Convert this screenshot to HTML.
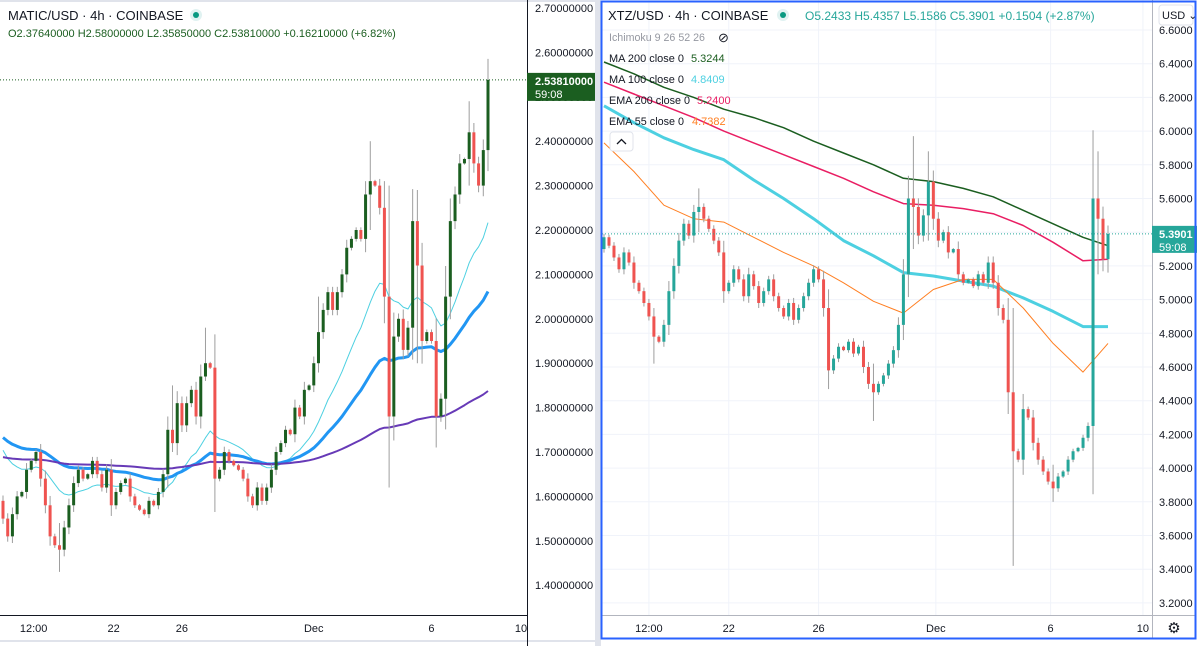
<!DOCTYPE html>
<html><head><meta charset="utf-8">
<style>
html,body{margin:0;padding:0;background:#fff;}
body{width:1197px;height:646px;overflow:hidden;position:relative;font-family:"Liberation Sans",sans-serif;}
svg{position:absolute;left:0;top:0;}
text{font-family:"Liberation Sans",sans-serif;}
</style></head>
<body>
<svg id="chart" width="1197" height="646" viewBox="0 0 1197 646" xmlns="http://www.w3.org/2000/svg">
  <rect x="0" y="0" width="1197" height="646" fill="#ffffff"/>
  <rect x="595" y="0" width="6" height="646" fill="#e0e3eb"/>
  <line x1="0" y1="1" x2="595" y2="1" stroke="#e0e3eb" stroke-width="2"/>
  <line x1="0" y1="641" x2="595" y2="641" stroke="#e0e3eb" stroke-width="2"/>
  <g id="left"></g>
  <g id="right"></g>
  <rect x="601.5" y="1.5" width="594" height="637" fill="none" stroke="#2962ff" stroke-width="2"/>
</svg>
<script>
// ---------- LEFT: MATIC/USD ----------
const maticCloses = [1.55,1.51,1.56,1.60,1.61,1.66,1.68,1.70,1.64,1.58,1.51,1.49,1.48,1.53,1.58,1.63,1.66,1.64,1.65,1.68,1.65,1.62,1.66,1.58,1.61,1.63,1.64,1.60,1.58,1.57,1.56,1.59,1.58,1.61,1.65,1.75,1.72,1.81,1.76,1.81,1.84,1.78,1.87,1.90,1.89,1.64,1.66,1.70,1.68,1.67,1.66,1.64,1.60,1.58,1.62,1.59,1.62,1.66,1.70,1.72,1.75,1.74,1.80,1.78,1.84,1.85,1.90,1.97,2.02,2.06,2.02,2.06,2.10,2.16,2.18,2.20,2.18,2.28,2.31,2.30,2.25,2.05,1.78,1.96,2.00,1.93,1.98,2.22,2.12,1.95,1.97,1.95,1.78,1.82,2.05,2.22,2.28,2.35,2.36,2.42,2.35,2.30,2.38,2.5381];
const maticFirstOpen = 1.59;
const maticSpikeIdx = [12,36,43,67,78,82,88,92,99,103];
const maticSpikeHi = [1.54,1.85,1.98,2.05,2.40,2.30,2.29,1.99,2.49,2.58];
const maticSpikeLo = [1.43,1.70,1.86,1.90,2.20,1.62,1.90,1.71,2.30,2.36];
const maticEmaSeeds = [1.72,1.74,1.69]; // ema20, ema50, slow ema start values
const maticEmaPeriods = [20,50,180];
const maticTicks = [2.7,2.6,2.5,2.4,2.3,2.2,2.1,2.0,1.9,1.8,1.7,1.6,1.5,1.4];
const maticTimeLabels = ["12:00","22","26","Dec","6","10"];
const maticTimeIdx = [6.5,23.5,38,66,91,110];

// ---------- RIGHT: XTZ/USD ----------
const xtzCloses = [5.37,5.32,5.25,5.18,5.28,5.22,5.10,5.05,4.98,4.90,4.78,4.75,4.85,5.05,5.20,5.35,5.45,5.38,5.52,5.55,5.48,5.42,5.35,5.28,5.05,5.10,5.18,5.12,5.02,5.15,5.08,4.98,5.05,5.12,5.02,4.95,4.90,4.98,4.88,4.95,5.02,5.10,5.18,5.12,4.95,4.58,4.65,4.72,4.70,4.75,4.68,4.72,4.60,4.50,4.45,4.50,4.55,4.62,4.70,4.85,5.15,5.60,5.55,5.38,5.50,5.70,5.48,5.35,5.40,5.28,5.30,5.15,5.10,5.12,5.08,5.15,5.10,5.22,5.10,4.95,4.88,4.45,4.10,4.05,4.35,4.30,4.15,4.05,3.98,3.92,3.88,3.95,3.98,4.05,4.10,4.12,4.18,4.25,5.60,5.48,5.24,5.3901];
const xtzFirstOpen = 5.30;
const xtzSpikeIdx = [10,19,54,62,65,82,90,98,99,101];
const xtzSpikeHi = [4.95,5.66,4.62,5.97,5.88,4.95,4.02,5.70,5.88,5.44];
const xtzSpikeLo = [4.62,5.40,4.28,5.30,5.35,3.42,3.80,5.30,5.15,5.16];
const xtzMaStep = 6;
const xtzMa200 = [6.41,6.34,6.26,6.20,6.13,6.08,6.02,5.94,5.87,5.80,5.72,5.70,5.66,5.61,5.53,5.45,5.37,5.32];
const xtzEma200 = [6.29,6.22,6.15,6.08,6.00,5.93,5.86,5.79,5.72,5.64,5.57,5.56,5.54,5.51,5.44,5.34,5.23,5.24];
const xtzMa100 = [6.15,6.05,5.96,5.89,5.83,5.71,5.60,5.48,5.35,5.26,5.16,5.14,5.11,5.08,5.01,4.93,4.84,4.84];
const xtzEma55 = [5.93,5.76,5.56,5.48,5.46,5.37,5.28,5.20,5.10,4.99,4.92,5.06,5.12,5.12,4.95,4.74,4.57,4.74];
const xtzTicks = [6.6,6.4,6.2,6.0,5.8,5.6,5.4,5.2,5.0,4.8,4.6,4.4,4.2,4.0,3.8,3.6,3.4,3.2];
const xtzTimeLabels = ["12:00","22","26","Dec","6","10"];
const xtzTimeIdx = [9,25,43,66.5,89.5,108];

const NS = "http://www.w3.org/2000/svg";
function mk(parent, tag, attrs, txt){
  const e = document.createElementNS(NS, tag);
  for (const k in attrs) e.setAttribute(k, attrs[k]);
  if (txt !== undefined) e.textContent = txt;
  parent.appendChild(e);
  return e;
}

function drawCandles(g, closes, firstOpen, spikeIdx, spikeHi, spikeLo, X, Y, up, dn, w){
  for (let i = 0; i < closes.length; i++){
    const o = i === 0 ? firstOpen : closes[i-1];
    const c = closes[i];
    let hi = Math.max(o,c), lo = Math.min(o,c);
    const sp = spikeIdx.indexOf(i);
    const rng = Math.abs(c-o);
    hi += rng*0.3; lo -= rng*0.3;
    if (sp >= 0){ hi = Math.max(hi, spikeHi[sp]); lo = Math.min(lo, spikeLo[sp]); }
    const col = c >= o ? up : dn;
    const wk = mk(g, 'line', {x1:X(i), x2:X(i), y1:Y(hi), y2:Y(lo), stroke:'#9e9e9e', 'stroke-width':1});
    
    
    const top = Y(Math.max(o,c)), bot = Y(Math.min(o,c));
    const b = mk(g, 'rect', {x:X(i)-w/2, y:top, width:w, height:Math.max(1, bot-top), fill:col});
    
    
  }
}
function pathFrom(pts){ return pts.map((p,i)=>(i?'L':'M')+p[0].toFixed(1)+','+p[1].toFixed(1)).join(' '); }

// ===== LEFT PANEL =====
(function(){
  const g = document.getElementById('left');
  const plotR = 527, y27 = 8, pxPer = 444;
  const Y = p => y27 + (2.7 - p) * pxPer;
  const n = maticCloses.length;
  const X = i => 3 + i * (485 / (n - 1));
  const colors = ['#4dd0e1','#2196f3','#673ab7'];
  const widths = [1,3,2];
  for (let k = 0; k < 3; k++){
    const a = 2/(maticEmaPeriods[k]+1);
    let v = maticEmaSeeds[k];
    const pts = [];
    for (let i = 0; i < n; i++){ v = v + a*(maticCloses[i]-v); pts.push([X(i), Y(v)]); }
    const l = mk(g,'path',{d:pathFrom(pts),fill:'none',stroke:colors[k],'stroke-width':widths[k],'stroke-linejoin':'round'});
    
    
  }
  drawCandles(g, maticCloses, maticFirstOpen, maticSpikeIdx, maticSpikeHi, maticSpikeLo, X, Y, '#1b5e20', '#ef5350', 3);
  const last = maticCloses[n-1];
  mk(g,'line',{x1:0,x2:plotR,y1:Y(last),y2:Y(last),stroke:'#1b5e20','stroke-width':1,'stroke-dasharray':'1,2'});
  mk(g,'line',{x1:plotR+0.5,x2:plotR+0.5,y1:0,y2:646,stroke:'#131722','stroke-width':1});
  mk(g,'line',{x1:0,x2:plotR,y1:615.5,y2:615.5,stroke:'#131722','stroke-width':1});
  maticTicks.forEach(t=>{
    const tx = mk(g,'text',{x:535,y:Y(t)+4,'font-size':11,fill:'#131722'}, t.toFixed(8));
    
    
  });
  const box = mk(g,'rect',{x:plotR,y:Y(last)-7,width:68,height:28,fill:'#1b5e20'});
  
  
  mk(g,'text',{x:535,y:Y(last)+5,'font-size':11,fill:'#fff','font-weight':'bold'}, last.toFixed(8));
  mk(g,'text',{x:535,y:Y(last)+18,'font-size':11,fill:'#fff'}, '59:08');
  maticTimeLabels.forEach((t,i)=>{
    const tx = mk(g,'text',{x:X(maticTimeIdx[i]),y:632,'font-size':11,fill:'#131722','text-anchor':'middle'}, t);
    
    
  });
  const t1 = mk(g,'text',{x:8,y:20,'font-size':13,fill:'#131722'}, 'MATIC/USD · 4h · COINBASE');
  
  
  mk(g,'circle',{cx:196,cy:15,r:6,fill:'#e0f2f1'});
  mk(g,'circle',{cx:196,cy:15,r:3,fill:'#089981'});
  const oh = mk(g,'text',{x:8,y:37,'font-size':11,fill:'#1b5e20'}, 'O2.37640000 H2.58000000 L2.35850000 C2.53810000 +0.16210000 (+6.82%)');
  
  
})();

// ===== RIGHT PANEL =====
(function(){
  const g = document.getElementById('right');
  const plotL = 602, plotR = 1152;
  const Y = p => 30 + (6.6 - p) * 168.5;
  const n = xtzCloses.length;
  const X = i => 604 + i * (504 / (n - 1));
  xtzTicks.forEach(t=>{ mk(g,'line',{x1:plotL,x2:plotR,y1:Y(t),y2:Y(t),stroke:'#f0f3fa','stroke-width':1}); });
  xtzTimeIdx.forEach(ix=>{ mk(g,'line',{x1:X(ix),x2:X(ix),y1:0,y2:615,stroke:'#f0f3fa','stroke-width':1}); });
  const series = [[xtzMa200,'#1b5e20',1.5,'xtz-ma-200'],[xtzEma200,'#e91e63',1.5,'xtz-ema-200'],[xtzMa100,'#4dd0e1',3,'xtz-ma-100'],[xtzEma55,'#ff7f22',1,'xtz-ema-55']];
  series.forEach(s=>{
    const pts = s[0].map((v,k)=>[X(Math.min(k*xtzMaStep, n-1)), Y(v)]);
    const l = mk(g,'path',{d:pathFrom(pts),fill:'none',stroke:s[1],'stroke-width':s[2],'stroke-linejoin':'round'});
    
    
  });
  drawCandles(g, xtzCloses, xtzFirstOpen, xtzSpikeIdx, xtzSpikeHi, xtzSpikeLo, X, Y, '#26a69a', '#ef5350', 3);
  const last = xtzCloses[n-1];
  mk(g,'line',{x1:plotL,x2:plotR,y1:Y(last),y2:Y(last),stroke:'#26a69a','stroke-width':1,'stroke-dasharray':'1,2'});
  mk(g,'line',{x1:plotR+0.5,x2:plotR+0.5,y1:0,y2:639,stroke:'#b2b5be','stroke-width':1});
  mk(g,'line',{x1:plotL,x2:1196,y1:615.5,y2:615.5,stroke:'#b2b5be','stroke-width':1});
  xtzTicks.forEach(t=>{
    const tx = mk(g,'text',{x:1159,y:Y(t)+4,'font-size':11,fill:'#131722'}, t.toFixed(4));
    
    
  });
  const box = mk(g,'rect',{x:plotR,y:Y(last)-8,width:45,height:27,fill:'#26a69a'});
  
  
  mk(g,'text',{x:1159,y:Y(last)+4,'font-size':11,fill:'#fff','font-weight':'bold'}, last.toFixed(4));
  mk(g,'text',{x:1159,y:Y(last)+17,'font-size':11,fill:'#fff'}, '59:08');
  const usd = mk(g,'rect',{x:1159,y:5,width:34,height:20,rx:3,fill:'#fff',stroke:'#e0e3eb'});
  
  
  mk(g,'text',{x:1162,y:19,'font-size':11,fill:'#131722'}, 'USD ⌄');
  xtzTimeLabels.forEach((t,i)=>{
    const tx = mk(g,'text',{x:X(xtzTimeIdx[i]),y:632,'font-size':11,fill:'#131722','text-anchor':'middle'}, t);
    
    
  });
  const gear = mk(g,'text',{x:1174,y:633,'font-size':15,fill:'#131722','text-anchor':'middle'}, '⚙');
  
  
  const t1 = mk(g,'text',{x:608,y:20,'font-size':13,fill:'#131722'}, 'XTZ/USD · 4h · COINBASE');
  
  
  mk(g,'circle',{cx:783,cy:15,r:6,fill:'#e0f2f1'});
  mk(g,'circle',{cx:783,cy:15,r:3,fill:'#089981'});
  const oh = mk(g,'text',{x:805,y:20,'font-size':12,fill:'#26a69a'}, 'O5.2433 H5.4357 L5.1586 C5.3901 +0.1504 (+2.87%)');
  
  
  const leg = [['Ichimoku 9 26 52 26','',''],['MA 200 close 0','5.3244','#1b5e20'],['MA 100 close 0','4.8409','#4dd0e1'],['EMA 200 close 0','5.2400','#e91e63'],['EMA 55 close 0','4.7382','#ff7f22']];
  const legValX = [0,691,691,697,692];
  leg.forEach((l,i)=>{
    const y = 41 + i*21;
    const tx = mk(g,'text',{x:609,y:y,'font-size':11,fill: i===0 ? '#9598a1' : '#131722', textLength: i>=3 ? (i===3?81:75) : (i===0?96:75), lengthAdjust:'spacingAndGlyphs'}, l[0]);
    
    
    if (l[1]) mk(g,'text',{x: legValX[i], y:y,'font-size':11,fill:l[2]}, l[1]);
  });
  mk(g,'text',{x:718,y:42,'font-size':13,fill:'#131722'}, '⊘');
  const btn = mk(g,'rect',{x:610,y:132,width:23,height:19,rx:3,fill:'#fff',stroke:'#e0e3eb'});
  
  
  mk(g,'path',{d:'M617,144 L621.5,139.5 L626,144',fill:'none',stroke:'#131722','stroke-width':1.3});
})();
</script>
</body></html>
